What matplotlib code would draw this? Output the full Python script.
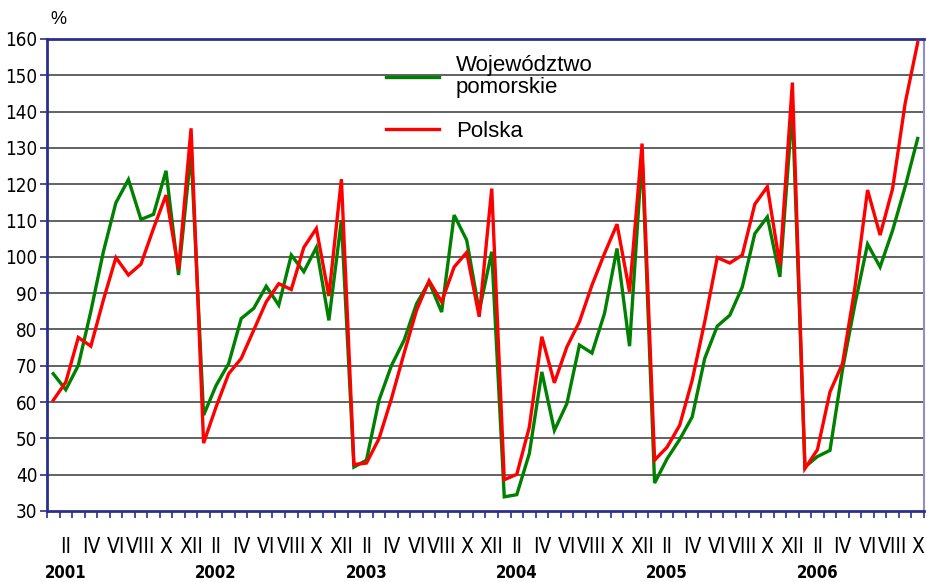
import matplotlib
matplotlib.use("Agg")
import matplotlib.pyplot as plt
from matplotlib.transforms import blended_transform_factory

years = ["2001", "2002", "2003", "2004", "2005", "2006"]
month_labels = ["II", "IV", "VI", "VIII", "X", "XII"]

pomorskie = [
    67.8, 63.4, 70.1, 85.0, 101.4, 114.9, 121.3, 110.3, 111.7, 123.7, 95.0, 129.0,
    56.4, 64.6, 70.6, 83.0, 85.8, 91.9, 86.7, 100.5, 95.9, 102.6, 82.5, 110.1,
    42.1, 44.0, 60.5, 70.1, 77.0, 87.1, 93.1, 84.8, 111.5, 104.6, 85.0, 101.4,
    33.9, 34.5, 45.8, 68.3, 52.2, 59.6, 75.7, 73.5, 84.4, 102.3, 75.4, 128.0,
    37.7, 44.4, 49.7, 55.9, 72.0, 80.9, 83.9, 91.7, 106.4, 111.0, 94.5, 141.0,
    42.1, 45.0, 46.7, 69.0, 87.1, 103.5, 97.2, 107.3, 119.3, 132.6,
]
polska = [
    60.5, 65.5, 77.8, 75.4, 88.1, 99.8, 95.0, 98.0, 107.8, 117.0, 96.5, 135.4,
    48.7, 58.7, 67.8, 72.0, 79.8, 87.6, 92.6, 91.0, 102.6, 107.8, 89.2, 121.4,
    42.8, 43.2, 49.9, 61.0, 73.4, 85.3, 93.4, 87.6, 97.2, 101.2, 83.5, 118.8,
    38.6, 40.1, 53.1, 78.0, 65.3, 75.2, 82.1, 92.2, 100.9, 109.0, 90.4, 131.2,
    44.0, 47.6, 53.6, 66.0, 82.1, 99.8, 98.3, 100.5, 114.5, 119.3, 97.7, 148.0,
    41.7, 46.9, 62.8, 70.6, 91.7, 118.4, 106.0, 118.8, 142.3, 159.0,
]

navy = "#2b2f8c"
fig = plt.figure(figsize=(9.27, 5.82), dpi=100)
ax = fig.add_axes([0.0507, 0.122, 0.946, 0.811])

x = list(range(len(polska)))
l1, = ax.plot(x, pomorskie, color="#008000", lw=2.4, solid_joinstyle="miter", zorder=3)
l2, = ax.plot(x, polska, color="#ff0000", lw=2.4, solid_joinstyle="miter", zorder=4)

ax.set_xlim(-0.5, len(polska) - 0.5)
ax.set_ylim(30, 160)
ax.set_yticks(range(30, 161, 10))
for v in range(40, 160, 10):
    ax.axhline(v, color="#555555", lw=1.3, zorder=1)

narrow = ["Liberation Sans Narrow", "DejaVu Sans"]
ax.tick_params(axis="y", direction="out", length=5, width=1.2, color=navy, labelsize=13.5, pad=2)
for t in ax.get_yticklabels():
    t.set_family(narrow)
    t.set_stretch("condensed")

ax.set_xticks([k - 0.5 for k in range(len(polska) + 1)])
ax.set_xticklabels([])
ax.tick_params(axis="x", direction="out", length=5, width=1.2, color=navy)

for side in ["left", "bottom", "top"]:
    ax.spines[side].set_color(navy)
    ax.spines[side].set_linewidth(2)
ax.spines["right"].set_color("#9090c8")
ax.spines["right"].set_linewidth(1.5)

trans = blended_transform_factory(ax.transData, fig.transFigure)
n = len(polska)
for i in range(n):
    m = i % 12
    if m % 2 == 1:
        ax.text(i, 1 - 547 / 582, month_labels[m // 2], transform=trans, ha="center", va="center",
                fontsize=15, family=narrow, stretch="condensed", clip_on=False)
for yi, yr in enumerate(years):
    ax.text(yi * 12 + 1, 1 - 573 / 582, yr, transform=trans, ha="center", va="center",
            fontsize=12, fontweight="bold", family=narrow, stretch="condensed", clip_on=False)

fig.text(58 / 927, 1 - 20 / 582, "%", fontsize=13, ha="center", va="center", family="Liberation Sans")

leg = ax.legend([l1, l2], ["Województwo\npomorskie", "Polska"], loc="upper left",
                bbox_to_anchor=(0.3735, 0.99), frameon=False, borderpad=0,
                prop={"family": "Liberation Sans", "size": 16}, handlelength=2.4,
                handletextpad=0.75, labelspacing=1.0)
for t in leg.get_texts():
    t.set_linespacing(1.1)

fig.savefig("out.png", dpi=100, facecolor="white")
